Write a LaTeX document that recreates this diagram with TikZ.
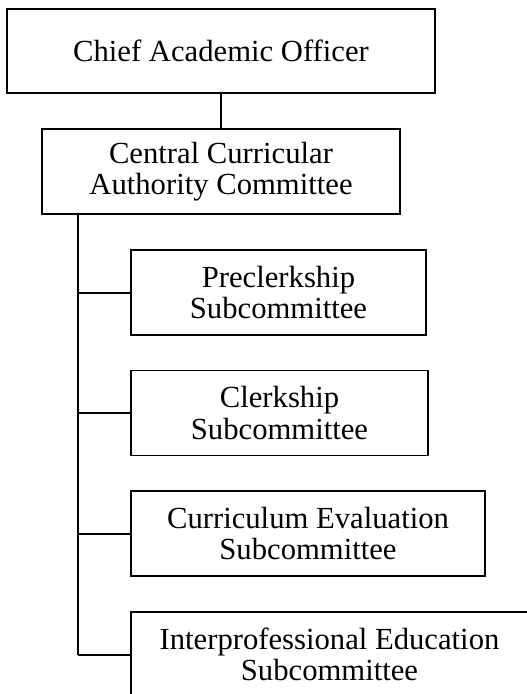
\documentclass[tikz,border=0pt]{standalone}
\usepackage{fontspec}
\setmainfont{Liberation Serif}
\newcommand{\branchLine}[1]{%%
  %% A branch from the trunk to one subcommittee.
  \draw[lineStyle] (trunkTop |- #1.west) -- (#1.west);
}

\begin{document}
\begin{tikzpicture}[%%
  x=0.75pt,y=-0.75pt,%%
  boxStyle/.style={draw,line width=1.3pt,align=center,inner sep=0pt,%%
    minimum height=63.75pt,font=\fontsize{23}{23.5}\selectfont},%%
  lineStyle/.style={-,line width=1.5pt},%%
  trunkStyle/.style={-,line width=1.9pt}
]
\useasboundingbox (0,0) rectangle (526,694);
%%
%% The two committees at the top.
\node[boxStyle,minimum width=321pt,minimum height=63pt] (chief) at (221,51) {Chief Academic Officer};
\node[boxStyle,minimum width=268.5pt] (central) at (221,171.5) {Central Curricular\\Authority Committee};
\draw[lineStyle] (chief.south) -- (central.south |- central.north);
%%
%% The subcommittees.
\node[boxStyle,minimum width=221.25pt] (precl) at (278.5,292.5) {Preclerkship\\Subcommittee};
\node[boxStyle,minimum width=222.75pt] (clerk) at (279.5,413) {Clerkship\\Subcommittee};
\node[boxStyle,minimum width=265.5pt] (evalu) at (308,533.5) {Curriculum Evaluation\\Subcommittee};
\node[boxStyle,minimum width=297.75pt] (inter) at (329.5,654.5) {Interprofessional Education\\Subcommittee};
%%
%% The trunk under the central committee.
\coordinate (trunkTop) at (78,214);
\draw[trunkStyle] (trunkTop) -- (trunkTop |- inter.west);
\branchLine{precl}
\branchLine{clerk}
\branchLine{evalu}
\branchLine{inter}
\end{tikzpicture}
\end{document}
